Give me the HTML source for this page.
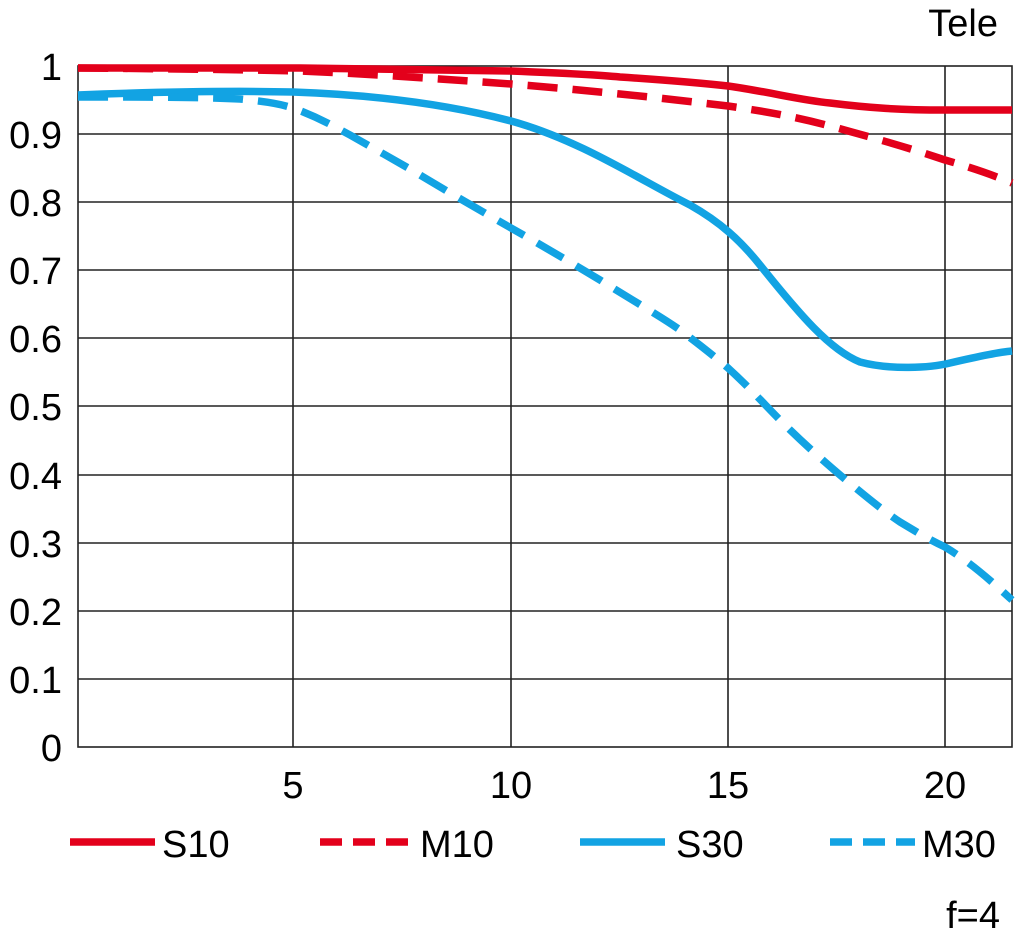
<!DOCTYPE html><html><head><style>body{margin:0;background:#fff}</style></head><body>
<svg width="1024" height="947" xmlns="http://www.w3.org/2000/svg" font-family="Liberation Sans, sans-serif" font-size="38" fill="#000">
<g stroke="#222" stroke-width="1.6" fill="none">
<rect x="78" y="66" width="934" height="681"/>
<path d="M78 134H1012M78 202H1012M78 270H1012M78 338H1012M78 406H1012M78 475H1012M78 543H1012M78 611H1012M78 679H1012M293 66V747M511 66V747M728 66V747M945 66V747"/>
</g>
<g text-anchor="end">
<text x="62" y="80">1</text><text x="62" y="148">0.9</text><text x="62" y="216">0.8</text><text x="62" y="284">0.7</text><text x="62" y="352">0.6</text><text x="62" y="420">0.5</text><text x="62" y="489">0.4</text><text x="62" y="557">0.3</text><text x="62" y="625">0.2</text><text x="62" y="693">0.1</text><text x="62" y="761">0</text>
</g>
<g text-anchor="middle"><text x="293" y="798">5</text><text x="511" y="798">10</text><text x="728" y="798">15</text><text x="945" y="798">20</text></g>
<text x="998" y="36" text-anchor="end">Tele</text>
<text x="1000" y="928" text-anchor="end">f=4</text>
<g fill="none" stroke-width="7.5" stroke-linejoin="round">
<path stroke="#e3001b" d="M78 68L300 68C400 69 460 70 511 71C560 73 600 75 620 77C680 81 710 84 728 86C770 92 800 100 830 103C870 108 900 110 945 110L1012 110"/>
<path stroke="#e3001b" stroke-dasharray="30 15" d="M78 68C200 69 260 70 300 71C350 73 400 76 511 84C560 88 600 92 620 94C680 100 710 104 728 106C770 112 800 118 830 126C870 137 900 145 945 160C980 170 1000 178 1012 183"/>
<path stroke="#12a3e3" d="M78 95C180 91 250 91 293 92C380 95 450 105 511 121C580 140 640 180 690 205C720 222 740 240 760 265C800 315 830 350 860 362C890 370 930 368 950 363C980 356 1000 352 1012 351"/>
<path stroke="#12a3e3" stroke-dasharray="30 15" d="M78 97C150 97 200 97 240 99C270 102 280 104 293 108C320 118 335 127 350 135C380 152 400 163 420 175C460 199 490 216 511 228C550 250 580 268 600 280C640 305 660 316 680 330C700 345 715 357 728 368C750 388 765 405 780 420C800 440 820 458 840 475C870 500 885 512 900 522C920 534 930 540 945 547C970 562 990 580 1012 600"/>
</g>
<g stroke-width="7.5">
<line x1="70" y1="842" x2="155" y2="842" stroke="#e3001b"/>
<line x1="320" y1="842" x2="410" y2="842" stroke="#e3001b" stroke-dasharray="22 11"/>
<line x1="580" y1="842" x2="665" y2="842" stroke="#12a3e3"/>
<line x1="830" y1="842" x2="915" y2="842" stroke="#12a3e3" stroke-dasharray="22 11"/>
</g>
<text x="162" y="857">S10</text><text x="420" y="857">M10</text><text x="676" y="857">S30</text><text x="922" y="857">M30</text>
</svg></body></html>
